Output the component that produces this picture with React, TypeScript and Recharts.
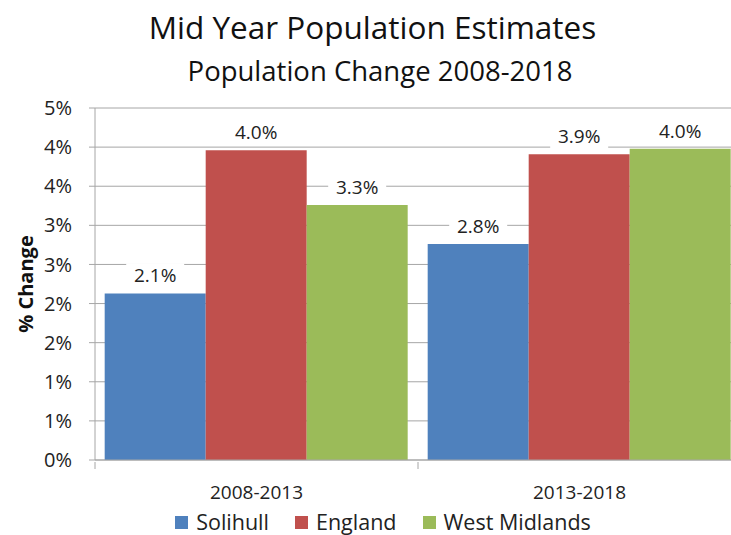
import { BarChart, Bar, XAxis, YAxis, CartesianGrid, LabelList } from 'recharts'

const periods = ['2008-2013', '2013-2018']
const solihull = [2.13, 2.76]
const england = [3.96, 3.91]
const westMidlands = [3.26, 3.98]
const yTicks = [0, 0.5, 1, 1.5, 2, 2.5, 3, 3.5, 4, 4.5]

const FONT = '"Open Sans", Lato, sans-serif'
const GRID = '#A6A6A6'

const series = [
  { key: 'solihull', name: 'Solihull', color: '#4F81BD' },
  { key: 'england', name: 'England', color: '#C0504D' },
  { key: 'westMidlands', name: 'West Midlands', color: '#9BBB59' },
]

const data = periods.map((p, i) => ({
  period: p,
  solihull: solihull[i],
  england: england[i],
  westMidlands: westMidlands[i],
}))

// white boxed data label above each bar, like excel
function BarLabel(props: any) {
  const { x, y, width, value } = props
  const cx = x + width / 2
  const cy = y - 18
  return (
    <g>
      <rect x={cx - 29} y={cy - 12} width={58} height={24} fill="#fff" />
      <text x={cx} y={cy} textAnchor="middle" dominantBaseline="central" fontFamily={FONT} fontSize={19} fill="#222">
        {`${Number(value).toFixed(1)}%`}
      </text>
    </g>
  )
}

function CategoryTick(props: any) {
  const { x, y, payload } = props
  const half = 323 / 2
  return (
    <g>
      <line x1={x - half} y1={y - 6} x2={x - half} y2={y + 1} stroke={GRID} />
      <text x={x} y={y + 31} textAnchor="middle" fontFamily={FONT} fontSize={19} fill="#222">
        {payload.value}
      </text>
    </g>
  )
}

export default function App() {
  return (
    <div style={{ position: 'absolute', left: 0, top: 0, width: 731, height: 535, overflow: 'hidden', background: '#fff', fontFamily: FONT }}>
      <div style={{ position: 'absolute', top: 5, left: 0, width: 745, textAlign: 'center', fontSize: 31.5, lineHeight: '44px', color: '#111' }}>
        Mid Year Population Estimates
      </div>
      <div style={{ position: 'absolute', top: 52, left: 0, width: 760, textAlign: 'center', fontSize: 27.5, lineHeight: '38px', color: '#111' }}>
        Population Change 2008-2018
      </div>
      <div
        style={{
          position: 'absolute',
          left: 26 - 70,
          top: 284 - 15,
          width: 140,
          height: 30,
          lineHeight: '30px',
          textAlign: 'center',
          transform: 'rotate(-90deg)',
          fontSize: 20,
          fontWeight: 'bold',
          color: '#111',
        }}
      >
        % Change
      </div>
      <BarChart
        width={741}
        height={535}
        data={data}
        margin={{ top: 108, right: 0, bottom: 25, left: 0 }}
        barCategoryGap="3%"
        barGap={0}
      >
        <CartesianGrid vertical={false} stroke={GRID} />
        <XAxis
          dataKey="period"
          axisLine={{ stroke: GRID }}
          tickLine={false}
          tick={<CategoryTick />}
          height={50}
          interval={0}
        />
        <YAxis
          domain={[0, 4.5]}
          ticks={yTicks}
          width={95}
          axisLine={{ stroke: GRID }}
          tickLine={{ stroke: GRID }}
          tickSize={6}
          tickMargin={17}
          tick={{ fill: '#222', fontSize: 20, fontFamily: FONT }}
          tickFormatter={(v: number) => `${Math.round(v)}%`}
        />
        {series.map((s) => (
          <Bar key={s.key} dataKey={s.key} name={s.name} fill={s.color} isAnimationActive={false}>
            <LabelList dataKey={s.key} content={<BarLabel />} />
          </Bar>
        ))}
      </BarChart>
      <div style={{ position: 'absolute', top: 507, left: 0, width: 766, display: 'flex', justifyContent: 'center', gap: 26, fontSize: 21.5, lineHeight: '30px', color: '#222' }}>
        {series.map((s) => (
          <div key={s.key} style={{ display: 'flex', alignItems: 'center', gap: 8 }}>
            <span style={{ width: 13, height: 13, background: s.color, display: 'inline-block' }} />
            <span>{s.name}</span>
          </div>
        ))}
      </div>
    </div>
  )
}
